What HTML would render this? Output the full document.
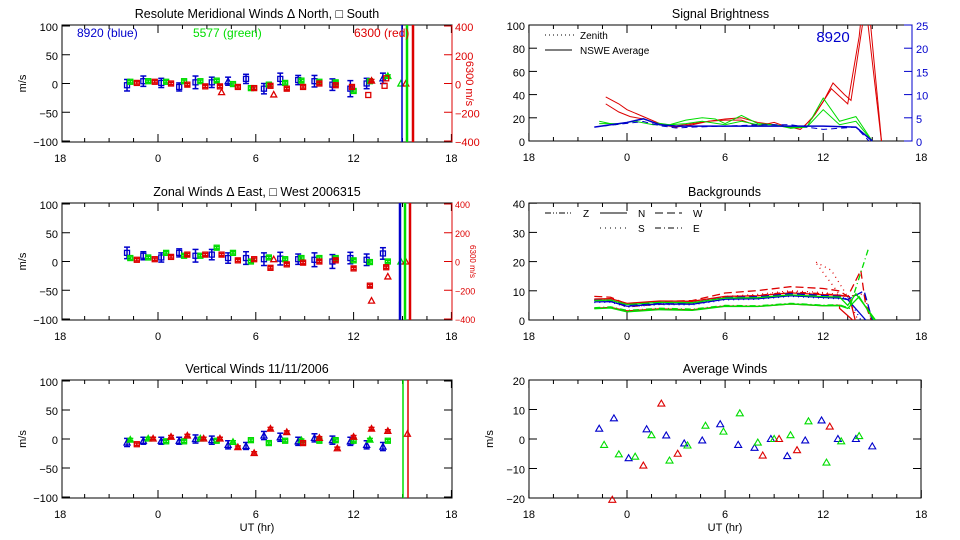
<!DOCTYPE html>
<html><head><meta charset="utf-8"><style>
html,body{margin:0;padding:0;background:#fff;}
svg{display:block;font-family:"Liberation Sans",sans-serif;}
</style></head><body>
<svg id="s" width="960" height="540" xmlns="http://www.w3.org/2000/svg"></svg>
<script>
const S=document.getElementById('s');let H='<defs><clipPath id="cr"><rect x="529" y="25" width="383" height="116"/></clipPath><clipPath id="cb"><rect x="529" y="203" width="391" height="117"/></clipPath></defs>';
const B='#0000cc',G='#00dd00',R='#dd0000';
function ln(x1,y1,x2,y2,c,w,d){H+=`<line x1="${x1}" y1="${y1}" x2="${x2}" y2="${y2}" stroke="${c||'#000'}" stroke-width="${w||1}" ${d?`stroke-dasharray="${d}"`:''}/>`;}
function tx(x,y,t,o){o=o||{};H+=`<text x="${x}" y="${y}" font-size="${o.s||11}" fill="${o.c||'#000'}" text-anchor="${o.a||'middle'}" ${o.r?`transform="rotate(${o.r} ${x} ${y})"`:''}>${t}</text>`;}
function pl(pts,c,w,d,clip){H+=`<polyline points="${pts.map(p=>p.join(',')).join(' ')}" fill="none" stroke="${c}" stroke-width="${w||1}" ${d?`stroke-dasharray="${d}"`:''} ${clip?`clip-path="url(#${clip})"`:''}/>`;}
function frame(x0,x1,y0,y1,x0t,xs,yt,yv,ylab,title,xlab,noRight){
  H+=`<rect x="${x0}" y="${y0}" width="${x1-x0}" height="${y1-y0}" fill="none" stroke="#000"/>`;
  for(let t=-6;t<=18;t+=1.5){const x=x0t+xs*t;if(x<x0-1||x>x1+1)continue;const L=(t%6==0)?8:4;ln(x,y1,x,y1-L);ln(x,y0,x,y0+L);}
  [-6,0,6,12,18].forEach(t=>tx(x0t+xs*t,y1+20,t<0?18:t));
  yt.forEach((y,i)=>{ln(x0,y,x0+8,y);if(!noRight)ln(x1,y,x1-8,y);tx(x0-4,y+5,yv[i],{a:'end'});});
  tx((x0+x1)/2,y0-7,title,{s:12.5});
  tx(x0-36,(y0+y1)/2,ylab,{r:-90});
  if(xlab)tx((x0+x1)/2,y1+33,xlab);
}
const xL=t=>158+16.3*t, xR=t=>627+16.35*t;
function errpt(x,y,c,e,sq){ if(e){ln(x,y-e,x,y+e,c,1.5);ln(x-3,y-e,x+3,y-e,c,1.5);ln(x-3,y+e,x+3,y+e,c,1.5);}
  if(sq)H+=`<rect x="${x-2.5}" y="${y-2.5}" width="5" height="5" fill="none" stroke="${c}" stroke-width="1.3"/>`;
  else H+=`<polygon points="${x},${y-3} ${x-3},${y+2.5} ${x+3},${y+2.5}" fill="none" stroke="${c}" stroke-width="1.3"/>`;}
function panelWinds(y0,y1,data,vlines,title,rightRed,small,xlab){
  const z=(y0+y1)/2,sc=(y1-y0-2)/200;
  frame(62,452,y0,y1,158,16.3,[y0+1,z-50*sc,z,z+50*sc,y1-1],[100,50,0,'\u221250','\u2212100'],'m/s',title,xlab,rightRed);
  if(rightRed){ln(452,y0,452,y1,R);const lv=[400,200,0,'\u2212200','\u2212400'];[y0+1,z-50*sc,z,z+50*sc,y1-1].forEach((y,i)=>{ln(452,y,444,y,R);tx(455,y+(small?4:5),lv[i],{a:'start',c:R,s:small?9:11});});
   tx(small?470:466,z,'6300 m/s',{r:90,c:R,s:small?8:11});}
  data.forEach(([c,arr])=>{arr.forEach(p=>{errpt(xL(p[0]),z-p[1]*sc,c,p[2]?p[2]*sc:0,p[3]);});});
  vlines.forEach(([x,c,w])=>ln(x,y0,x,y1,c,w));
}
const mB=[[-1.9,-3,10,1],[-0.9,4,9,1],[0.2,1,8,1],[1.3,-6,7,1],[2.3,2,11,1],[3.3,2,9,1],[4.3,4,7,0],[5.4,8,8,1],[6.5,-9,9,1],[7.5,8,10,1],[8.6,6,8,1],[9.6,4,10,1],[10.7,-2,10,1],[11.8,-9,14,1],[12.8,0,9,1],[13.8,9,9,0]];
const mG=[[-1.7,3,2,1],[-0.6,4,2,1],[0.5,3,2,1],[1.6,4,2,1],[2.6,4,2,1],[3.6,5,2,1],[4.6,-1,2,1],[5.7,-8,2,1],[6.8,-2,2,1],[7.8,1,2,1],[8.8,5,2,1],[9.9,3,2,1],[10.9,2,2,1],[12.0,-13,2,1],[13.0,4,2,1],[14.1,13,2,0],[14.9,0,0,0]];
const mR=[[-1.3,1,2,1],[-0.2,3,2,1],[0.8,0,2,1],[1.8,-2,2,1],[2.9,-5,2,1],[3.8,-5,2,1],[3.9,-15,0,0],[4.9,-6,2,1],[5.9,-8,2,1],[6.9,-4,2,1],[7.1,-19,0,0],[7.9,-9,2,1],[8.9,-6,2,1],[9.9,0,2,1],[10.9,-3,2,1],[11.9,-6,2,1],[12.9,-20,0,1],[13.1,5,2,0],[13.9,-4,0,1],[14.0,9,0,1],[15.2,0,0,0]];
panelWinds(25,142,[[B,mB],[G,mG],[R,mR]],[[402,B,1.5],[407,G,2.5],[413,R,2.5]],'Resolute Meridional Winds \u0394 North, \u25A1 South',true,false);
tx(77,37,'8920 (blue)',{a:'start',c:B,s:12});tx(193,37,'5577 (green)',{a:'start',c:G,s:12});tx(354,37,'6300 (red)',{a:'start',c:R,s:12});
const zB=[[-1.9,15,10,1],[-0.9,10,7,1],[0.2,7,8,1],[1.3,15,7,1],[2.3,10,11,1],[3.3,12,9,1],[4.3,6,9,1],[5.4,6,11,1],[6.5,4,11,1],[7.5,5,11,1],[8.6,4,9,1],[9.6,3,12,1],[10.7,0,12,1],[11.8,6,10,1],[12.8,3,10,1],[13.8,14,10,1]];
const zG=[[-1.7,6,2,1],[-0.6,7,2,1],[0.5,15,2,1],[1.6,10,2,1],[2.6,10,2,1],[3.6,24,2,1],[4.6,15,2,1],[5.7,0,2,1],[6.8,7,2,1],[7.8,4,2,1],[8.8,6,2,1],[9.9,6,2,1],[10.9,6,2,1],[12.0,2,2,1],[13.0,-1,2,1],[14.1,0,2,1],[14.9,0,0,0]];
const zR=[[-1.3,3,2,1],[-0.2,4,2,1],[0.8,8,2,1],[1.8,12,2,1],[2.9,12,2,1],[3.9,12,2,1],[4.9,2,2,1],[5.9,4,2,1],[6.9,-11,2,1],[7.1,4,0,0],[7.9,-5,2,1],[8.9,-2,2,1],[9.9,0,2,1],[10.9,2,2,1],[12.0,-12,2,1],[13.0,-42,2,1],[13.1,-68,0,0],[14.0,-10,2,1],[14.1,-26,0,0],[15.2,0,0,0]];
panelWinds(203,320,[[B,zB],[G,zG],[R,zR]],[[400,B,2.5],[405,G,2.5],[410,R,2.5]],'Zonal Winds \u0394 East, \u25A1 West 2006315',true,true);
const vB=[[-1.9,-6,7,0],[-0.9,-3,6,0],[0.2,-3,6,0],[1.3,-3,6,0],[2.3,0,7,0],[3.3,-2,7,0],[4.3,-10,7,0],[5.4,-12,6,0],[6.5,6,7,0],[7.5,3,7,0],[8.6,-4,7,0],[9.6,2,7,0],[10.7,-2,7,0],[11.8,-4,7,0],[12.8,-10,7,0],[13.8,-13,7,0]];
const vG=[[-1.7,-1,2,0],[-0.6,1,2,0],[0.5,-4,2,1],[1.6,-4,2,1],[2.6,1,2,0],[3.6,-3,2,1],[4.6,-5,2,0],[5.7,-2,2,1],[6.8,-7,2,1],[7.8,-3,2,1],[8.8,-2,2,0],[9.9,-3,2,1],[10.9,-2,2,1],[12.0,-3,2,1],[13.0,-1,2,0],[14.1,-3,2,1]];
const vR=[[-1.3,-9,2,1],[-0.3,1,2,0],[0.8,4,2,0],[1.8,6,2,0],[2.8,1,2,0],[3.8,1,2,0],[4.9,-14,2,0],[5.9,-24,2,0],[6.9,18,2,0],[7.9,12,2,0],[8.9,-7,2,1],[9.9,2,2,0],[11.0,-16,2,0],[12.0,4,2,0],[13.1,18,2,0],[14.1,14,2,0],[15.3,9,0,0]];
panelWinds(380,498,[[B,vB],[G,vG],[R,vR]],[[403,G,1.5],[408,R,1.5]],'Vertical Winds 11/11/2006',false,false,'UT (hr)');
// Signal Brightness
(function(){const y0=25,y1=141,yv=v=>y1-v*1.16,yb=v=>y1-v*4.64;
 frame(529,912,y0,y1,627,16.35,[0,20,40,60,80,100].map(v=>yv(v)),[0,20,40,60,80,100],'','Signal Brightness',null,true);
 ln(912,y0,912,y1,B);[0,5,10,15,20,25].forEach(v=>{ln(912,yb(v),904,yb(v),B);tx(916,yb(v)+5,v,{a:'start',c:B});});
 ln(545,35,575,35,'#000',1,'1 3');tx(580,39,'Zenith',{a:'start',s:10});ln(545,50,572,50,'#000',1);tx(580,54,'NSWE Average',{a:'start',s:10});
 tx(833,42,'8920',{c:B,s:15});
 const P=(a,f)=>a.map(p=>[xR(p[0]),f(p[1])]);
 pl(P([[-1.3,38],[-0.5,32],[0,27],[1,21],[2,15],[3,13],[4,15],[5,17],[6,19],[7,20],[8,16],[9,14],[10,12],[10.6,10],[11.3,19],[12,34],[12.6,50],[13.3,40],[13.7,35],[14.4,100],[14.7,130],[15.6,-5]],yv),R,1,'','cr');
 pl(P([[-1.3,32],[-0.5,25],[0.2,21],[1,19],[2,14],[3,12],[4,14],[5,17],[6,18],[7,18],[8,13],[9,16],[10,11],[10.8,12],[11.5,23],[12.5,45],[13.5,32],[14.2,90],[14.5,130],[15.6,-5]],yv),R,1,'','cr');
 pl(P([[-1.7,17],[-0.7,14],[0,16],[1,19],[1.6,16],[2.6,14],[3.6,18],[4.6,20],[5.4,19],[6,15],[7,22],[8,15],[9,14],[10,12],[11,12],[12,37],[13,17],[14,21],[15,0]],yv),G,1);
 pl(P([[-1.7,15],[-0.5,15],[0.5,17],[1.6,14],[2.6,14],[3.6,15],[4.6,17],[6,14],[7,17],[8,14],[9,14],[10,11],[11,12],[12,27],[13,14],[14,17],[15,0]],yv),G,1);
 pl(P([[-2,3],[-1,3.5],[0,4],[1,4.8],[2,3.5],[3,3.2],[5,3.2],[8,3.2],[10,3.2],[12,3.2],[14,3],[15,0]],yb),B,1.5);
 pl(P([[-1.5,3.2],[0,3.8],[1,4.2],[2,3.3],[3,2.8],[4,3],[6,3.2],[8,3.5],[10,3.5],[12,2.5],[14,3],[14.8,0]],yb),B,1,'6 4');
})();
// Backgrounds
(function(){const y0=203,y1=320,yv=v=>y1-v*2.92;
 frame(529,920,y0,y1,627,16.35,[0,10,20,30,40].map(v=>yv(v)),[0,10,20,30,40],'','Backgrounds',null,false);
 const lg=[[545,213,'Z','6 2 1 2 1 2'],[600,213,'N',''],[655,213,'W','8 4'],[600,228,'S','1 4'],[655,228,'E','6 3 1 3']];
 lg.forEach(l=>{ln(l[0]+0,l[1],l[0]+27,l[1],'#000',1,l[3]);tx(l[0]+38,l[1]+4,l[2],{a:'start',s:10});});
 const P=a=>a.map(p=>[xR(p[0]),yv(p[1])]);
 const base=[[-2,0.5],[-1,0],[0,-1],[2,-0.8],[4,-0.3],[6,0.8],[8,1.6],[10,2],[12,2],[13,1.2]];
 function cur(off,amp,c,d,end){pl(P(base.map((p,i)=>[p[0],off+p[1]*amp+(i%2?0.3:-0.3)]).concat(end)),c,1.3,d,'cb');}
 cur(7,1,R,'',[[13.6,8],[14,-1]]);cur(7.5,1.8,R,'8 4',[[13.5,8],[14.3,17],[14.6,5],[15,-1]]);cur(6.5,1.6,R,'1 4',[[11.5,20],[12.5,17],[13.5,8],[14.2,-1]]);
 cur(4,0.6,R,'',[[13,4],[14,-1]]);cur(6.3,1.5,R,'6 3 1 3',[[13.5,8],[14.5,9],[15,-1]]);
 cur(6,1,B,'',[[13.5,7],[14.6,0]]);cur(6.5,1.1,B,'8 4',[[13.5,7],[14.5,10],[15,0]]);cur(5.8,1.0,B,'1 4',[[13.5,8],[14.3,0]]);
 cur(3.8,0.7,G,'',[[13.5,4],[14.2,8],[15.1,0]]);cur(4.2,0.6,G,'6 3 1 3',[[13.6,4],[14.8,25]]);cur(6.5,0.9,G,'',[[13.5,5],[14,9],[15.2,0]]);
})();
// Average winds
(function(){const y0=380,y1=498,yv=v=>439-v*2.95;
 frame(529,921,y0,y1,627,16.35,[20,10,0,-10,-20].map(v=>yv(v)),[20,10,0,'\u221210','\u221220'],'m/s','Average Winds','UT (hr)',false);
 const pts=[[B,[[-1.7,3.5],[-0.8,7],[0.1,-6.5],[1.2,3.3],[2.4,1.2],[3.5,-1.5],[4.6,-0.5],[5.7,5],[6.8,-2],[7.8,-3],[8.8,0],[9.8,-5.8],[10.9,-0.5],[11.9,6.3],[12.9,0],[14,0],[15,-2.5]]],
 [G,[[-1.4,-2],[-0.5,-5.2],[0.5,-6],[1.5,1.3],[2.6,-7.3],[3.7,-2.2],[4.8,4.5],[5.9,2.5],[6.9,8.7],[8,-1.2],[9,0],[10,1.3],[11.1,6],[12.2,-8],[13.1,-0.8],[14.2,1]]],
 [R,[[-0.9,-20.6],[1,-9],[2.1,12],[3.1,-5],[8.3,-5.6],[9.3,0],[10.4,-3.8],[12.4,4.2]]]];
 pts.forEach(([c,a])=>a.forEach(p=>{const x=xR(p[0]),y=yv(p[1]);H+=`<polygon points="${x},${y-3.5} ${x-3.5},${y+2.5} ${x+3.5},${y+2.5}" fill="none" stroke="${c}" stroke-width="1.1"/>`;}));
})();
S.innerHTML=H;
</script>
</body></html>
